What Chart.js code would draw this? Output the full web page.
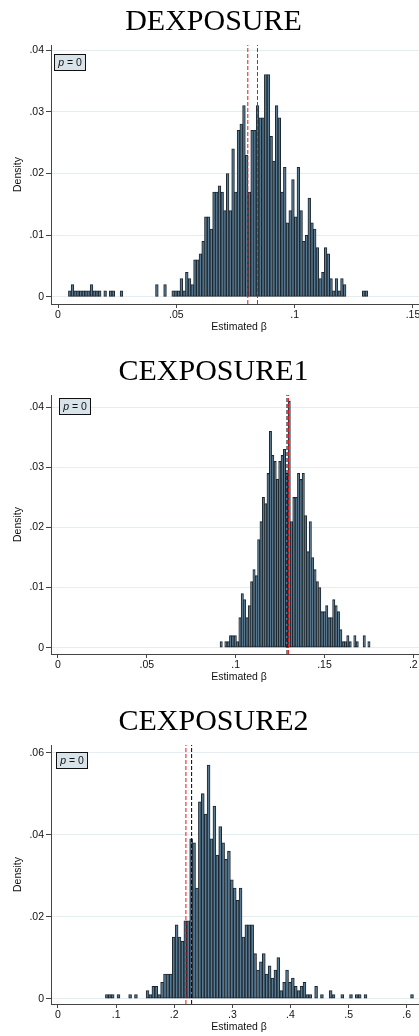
<!DOCTYPE html>
<html>
<head>
<meta charset="utf-8">
<script src="https://cdn.jsdelivr.net/npm/chart.js@4.4.1/dist/chart.umd.min.js"></script>
<style>
html, body { margin: 0; padding: 0; background: #fff; }
body { width: 419px; height: 1036px; overflow: hidden; position: relative; }
canvas { position: absolute; left: 0; }
</style>
</head>
<body>
<canvas id="dexp" width="432" height="350" style="top:0px"></canvas>
<canvas id="cexp1" width="432" height="350" style="top:350px"></canvas>
<canvas id="cexp2" width="432" height="350" style="top:700px"></canvas>
<script>
// DEXPOSURE: bins start at dexpStart, each dexpWidth wide
var dexpStart = 0.0044, dexpWidth = 0.00115;
var dexpDensity = [
  .001,.002,.001,.001,.001,.001,.001,.001,.002,.001,
  .001,.001,0,.001,0,.001,.001,0,0,.001,
  0,0,0,0,0,0,0,0,0,0,
  0,0,.002,0,0,.002,0,0,.001,.001,
  .001,.003,.001,.004,.003,.002,.006,.006,.007,.009,
  .013,.013,.011,.017,.017,.018,.017,.014,.020,.014,
  .024,.017,.027,.028,.031,.023,.017,.027,.027,.031,
  .029,.029,.036,.036,.026,.022,.031,.029,.017,.021,
  .012,.014,.019,.013,.021,.014,.009,.010,.016,.012,
  .011,.008,.003,.004,.008,.007,.003,.001,.003,.001,
  .003,.002,0,0,0,0,0,0,.001,.001
];
var dexpLines = [0.0802, 0.0843];
var dexpXTicks = [0, 0.05, 0.1, 0.15];
var dexpYTicks = [0, 0.01, 0.02, 0.03, 0.04];

// CEXPOSURE1
var cexp1Start = 0.0912, cexp1Width = 0.00132;
var cexp1Density = [
  .001,0,.001,.001,.002,.002,.002,.001,.005,.009,
  .008,.005,.007,.011,.013,.012,.018,.021,.025,.024,
  .029,.036,.032,.031,.028,.031,.032,.033,.029,.041,
  .021,.025,.025,.029,.028,.029,.022,.016,.021,.015,
  .013,.011,.010,.006,.006,.007,.005,.005,.008,.007,
  .006,.003,.001,.001,.002,.001,0,.002,.001,0,
  0,.002,0,.001
];
var cexp1Lines = [0.1297, 0.1289];
var cexp1XTicks = [0, 0.05, 0.1, 0.15, 0.2];
var cexp1YTicks = [0, 0.01, 0.02, 0.03, 0.04];

// CEXPOSURE2
var cexp2Start = 0.0816, cexp2Width = 0.005;
var cexp2Density = [
  .001,.001,.001,0,.001,0,0,0,.001,0,
  .001,0,0,0,.002,.001,.003,.003,.001,.004,
  .006,.006,.006,.015,.018,.015,.014,.019,.019,.039,
  .038,.027,.048,.050,.045,.057,.039,.047,.035,.042,
  .038,.034,.036,.029,.027,.024,.027,.015,.018,.018,
  .018,.011,.007,.009,.011,.006,.008,.005,.007,.010,
  .002,.004,.007,.004,.005,.003,.002,.003,.004,.001,
  .001,0,.003,0,.001,0,0,.002,.001,0,
  0,.001,0,0,.001,0,.001,.001,0,.001,
  0,0,0,0,0,0,0,0,0,0,
  0,0,0,0,0,.001
];
var cexp2Lines = [0.2201, 0.2299];
var cexp2XTicks = [0, 0.1, 0.2, 0.3, 0.4, 0.5, 0.6];
var cexp2YTicks = [0, 0.02, 0.04, 0.06];

Chart.defaults.font.family = "'Liberation Sans', Arial, sans-serif";

var labelFont = { size: 10.5 };

function fmt(v) {
  return v === 0 ? '0' : String(v).replace(/^0\./, '.');
}

// the little "p = 0" label box in the top left corner
var pBoxPlugin = {
  id: 'pBox',
  afterDraw: function(chart, args, opts) {
    var ctx = chart.ctx, a = chart.chartArea;
    var x = Math.round(a.left + opts.dx), y = Math.round(a.top + opts.dy), w = 32, h = 17;
    ctx.save();
    ctx.fillStyle = '#d9e4ea';
    ctx.fillRect(x, y, w, h);
    ctx.strokeStyle = '#111';
    ctx.lineWidth = 1;
    ctx.strokeRect(x + 0.5, y + 0.5, w - 1, h - 1);
    ctx.fillStyle = '#111';
    ctx.textBaseline = 'middle';
    var italic = "italic 10.5px 'Liberation Sans'", plain = "10.5px 'Liberation Sans'";
    ctx.font = italic;
    var wp = ctx.measureText('p').width;
    ctx.font = plain;
    var wr = ctx.measureText(' = 0').width;
    var tx = x + (w - wp - wr) / 2, ty = y + h / 2 + 0.5;
    ctx.font = italic;
    ctx.fillText('p', tx, ty);
    ctx.font = plain;
    ctx.fillText(' = 0', tx + wp, ty);
    ctx.restore();
  }
};

function histPanel(id, title, start, width, density, lines, lineColors, xTicks, yTicks, xMin, xMax, yMin, yMax, box) {
  var bars = density.map(function(d, i) {
    return { x: start + (i + 0.5) * width, y: d };
  });
  var datasets = lines.map(function(v, i) {
    return {
      type: 'line',
      data: [{ x: v, y: yMin }, { x: v, y: yMax }],
      borderColor: lineColors[i],
      borderWidth: 1,
      borderDash: [4, 2],
      pointRadius: 0,
      fill: false,
      order: 0
    };
  });
  datasets.push({
    type: 'bar',
    data: bars,
    backgroundColor: '#587a93',
    borderColor: '#1b262e',
    borderWidth: 1,
    borderSkipped: false,
    barPercentage: 1,
    categoryPercentage: 1,
    order: 1
  });

  new Chart(document.getElementById(id), {
    type: 'bar',
    data: { datasets: datasets },
    plugins: [pBoxPlugin],
    options: {
      responsive: false,
      animation: false,
      layout: { padding: { left: 0, right: 5, top: 0, bottom: 17 } },
      plugins: {
        legend: { display: false },
        tooltip: { enabled: false },
        title: {
          display: true,
          text: title,
          color: '#000',
          font: { family: "'Liberation Serif', 'Times New Roman', serif", size: 30, weight: 'normal' },
          padding: { top: 4, bottom: 5 }
        },
        pBox: box
      },
      scales: {
        x: {
          type: 'linear',
          min: xMin,
          max: xMax,
          offset: false,
          afterBuildTicks: function(s) { s.ticks = xTicks.map(function(v) { return { value: v }; }); },
          afterFit: function(s) { s.height = 29; },
          grid: { offset: false, drawOnChartArea: false, tickLength: 4, tickColor: '#444' },
          border: { color: '#444', width: 1 },
          ticks: { padding: 1, autoSkip: false, maxRotation: 0, color: '#111', font: labelFont, callback: fmt },
          title: { display: true, text: 'Estimated β', color: '#111', font: labelFont, padding: 0 }
        },
        y: {
          type: 'linear',
          min: yMin,
          max: yMax,
          afterBuildTicks: function(s) { s.ticks = yTicks.map(function(v) { return { value: v }; }); },
          afterFit: function(s) { s.width = 51; },
          grid: { color: '#e5edf0', tickLength: 5, tickColor: '#444' },
          border: { color: '#444', width: 1 },
          ticks: { padding: 2, autoSkip: false, color: '#111', font: labelFont, callback: fmt },
          title: { display: true, text: 'Density', color: '#111', font: labelFont, padding: { top: 12, bottom: 0 } }
        }
      }
    }
  });
}

histPanel('dexp', 'DEXPOSURE', dexpStart, dexpWidth, dexpDensity, dexpLines, ['#e8141a', '#555'],
  dexpXTicks, dexpYTicks, -0.00296, 0.15592, -0.001134, 0.04081, { dx: 3, dy: 9 });

histPanel('cexp1', 'CEXPOSURE1', cexp1Start, cexp1Width, cexp1Density, cexp1Lines, ['#e8141a', '#000'],
  cexp1XTicks, cexp1YTicks, -0.00394, 0.2077, -0.001048, 0.042047, { dx: 8, dy: 3 });

histPanel('cexp2', 'CEXPOSURE2', cexp2Start, cexp2Width, cexp2Density, cexp2Lines, ['#e8141a', '#000'],
  cexp2XTicks, cexp2YTicks, -0.01204, 0.6349, -0.001293, 0.061878, { dx: 5, dy: 7 });
</script>
</body>
</html>
